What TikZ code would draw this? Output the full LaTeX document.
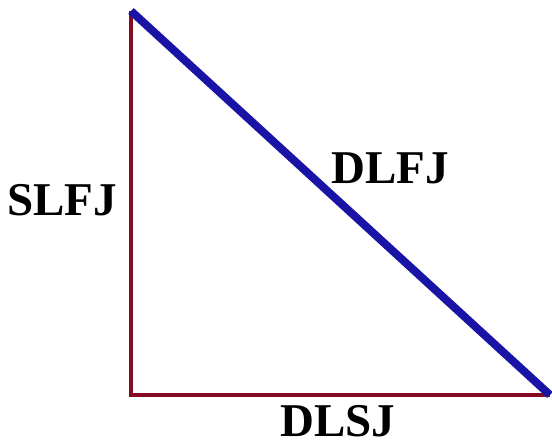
\documentclass[tikz,border=0pt]{standalone}
\usepackage{fontspec}
\setmainfont{Liberation Serif}
\definecolor{legred}{RGB}{135,10,35}
\definecolor{hypblue}{RGB}{25,20,165}
\begin{document}
\begin{tikzpicture}[
  x=1pt,
  y=-1pt,
  leg/.style={legred,line width=4.5pt},
  hyp/.style={hypblue,line width=8pt},
  lbl/.style={font=\fontsize{47}{50}\selectfont\bfseries,inner sep=0pt,anchor=base}
]
\useasboundingbox (0,0) rectangle (552,445);
\coordinate (top) at (131,11);
\coordinate (corner) at (131,395);
\coordinate (right) at (550,395);
\draw[leg,line join=miter] (top) -- (corner) -- (right);
\draw[hyp] (top) -- (right);
\node[lbl] (slfj) at (62,215) {SLFJ};
\node[lbl] (dlfj) at (390,183) {DLFJ};
\node[lbl] (dlsj) at (338,436) {DLSJ};
\end{tikzpicture}
\end{document}
